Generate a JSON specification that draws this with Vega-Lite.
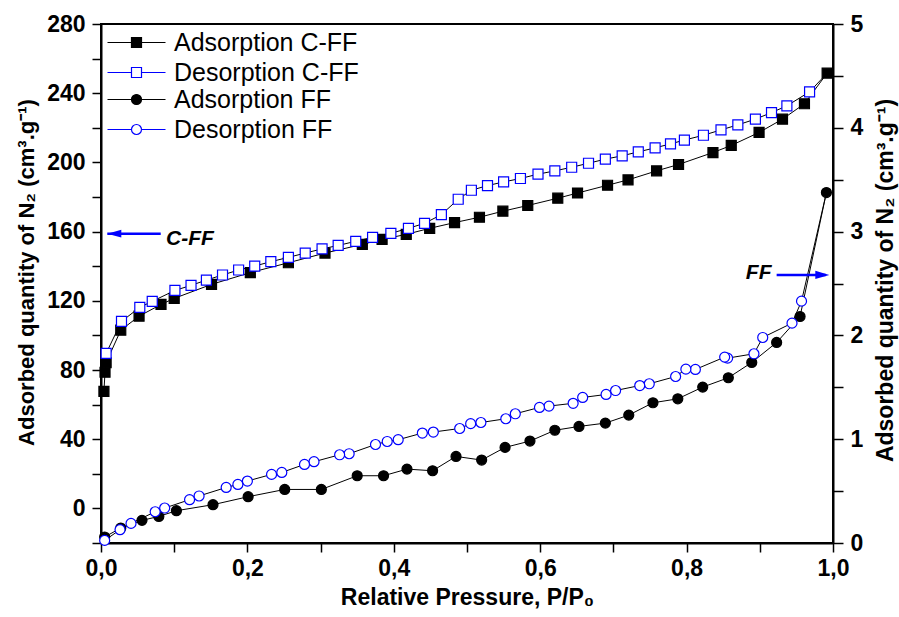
{
  "$schema": "https://vega.github.io/schema/vega-lite/v6.json",
  "width": 732,
  "height": 519,
  "autosize": {"type": "none"},
  "padding": {"left": 101, "top": 24, "right": 66, "bottom": 74},
  "background": "white",
  "config": {
    "view": {"stroke": "black", "strokeWidth": 2},
    "font": "Liberation Sans",
    "axis": {
      "domainColor": "black", "domainWidth": 2, "tickColor": "black", "tickWidth": 1.5,
      "labelColor": "black", "titleColor": "black",
      "labelFont": "Liberation Sans", "titleFont": "Liberation Sans",
      "labelFontWeight": "bold", "titleFontWeight": "bold",
      "labelFontSize": 23, "titleFontSize": 22, "grid": false, "tickSize": 9,
      "labelPadding": 7, "labelOverlap": false, "labelFlush": false
    }
  },
  "datasets": {
    "iso": [
      {"material": "C-FF", "series": "Adsorption C-FF", "p": 0.004, "q": 67.7},
      {"material": "C-FF", "series": "Adsorption C-FF", "p": 0.0055, "q": 78.7},
      {"material": "C-FF", "series": "Adsorption C-FF", "p": 0.007, "q": 84.2},
      {"material": "C-FF", "series": "Adsorption C-FF", "p": 0.027, "q": 103},
      {"material": "C-FF", "series": "Adsorption C-FF", "p": 0.052, "q": 111.1},
      {"material": "C-FF", "series": "Adsorption C-FF", "p": 0.082, "q": 117.9},
      {"material": "C-FF", "series": "Adsorption C-FF", "p": 0.100, "q": 121.4},
      {"material": "C-FF", "series": "Adsorption C-FF", "p": 0.151, "q": 129.5},
      {"material": "C-FF", "series": "Adsorption C-FF", "p": 0.204, "q": 136.3},
      {"material": "C-FF", "series": "Adsorption C-FF", "p": 0.256, "q": 142},
      {"material": "C-FF", "series": "Adsorption C-FF", "p": 0.306, "q": 147.6},
      {"material": "C-FF", "series": "Adsorption C-FF", "p": 0.357, "q": 152.6},
      {"material": "C-FF", "series": "Adsorption C-FF", "p": 0.384, "q": 155.5},
      {"material": "C-FF", "series": "Adsorption C-FF", "p": 0.417, "q": 158.4},
      {"material": "C-FF", "series": "Adsorption C-FF", "p": 0.449, "q": 161.9},
      {"material": "C-FF", "series": "Adsorption C-FF", "p": 0.483, "q": 165.2},
      {"material": "C-FF", "series": "Adsorption C-FF", "p": 0.517, "q": 168.3},
      {"material": "C-FF", "series": "Adsorption C-FF", "p": 0.549, "q": 171.8},
      {"material": "C-FF", "series": "Adsorption C-FF", "p": 0.583, "q": 175.1},
      {"material": "C-FF", "series": "Adsorption C-FF", "p": 0.624, "q": 179.3},
      {"material": "C-FF", "series": "Adsorption C-FF", "p": 0.651, "q": 182.3},
      {"material": "C-FF", "series": "Adsorption C-FF", "p": 0.692, "q": 186.8},
      {"material": "C-FF", "series": "Adsorption C-FF", "p": 0.720, "q": 189.9},
      {"material": "C-FF", "series": "Adsorption C-FF", "p": 0.759, "q": 195.1},
      {"material": "C-FF", "series": "Adsorption C-FF", "p": 0.789, "q": 198.8},
      {"material": "C-FF", "series": "Adsorption C-FF", "p": 0.836, "q": 205.7},
      {"material": "C-FF", "series": "Adsorption C-FF", "p": 0.861, "q": 209.8},
      {"material": "C-FF", "series": "Adsorption C-FF", "p": 0.899, "q": 217.3},
      {"material": "C-FF", "series": "Adsorption C-FF", "p": 0.931, "q": 225},
      {"material": "C-FF", "series": "Adsorption C-FF", "p": 0.961, "q": 233.9},
      {"material": "C-FF", "series": "Adsorption C-FF", "p": 0.992, "q": 251.6},
      {"material": "FF", "series": "Adsorption FF", "p": 0.005, "q": 0.058},
      {"material": "FF", "series": "Adsorption FF", "p": 0.027, "q": 0.144},
      {"material": "FF", "series": "Adsorption FF", "p": 0.056, "q": 0.218},
      {"material": "FF", "series": "Adsorption FF", "p": 0.079, "q": 0.256},
      {"material": "FF", "series": "Adsorption FF", "p": 0.103, "q": 0.311},
      {"material": "FF", "series": "Adsorption FF", "p": 0.153, "q": 0.369},
      {"material": "FF", "series": "Adsorption FF", "p": 0.201, "q": 0.446},
      {"material": "FF", "series": "Adsorption FF", "p": 0.251, "q": 0.516},
      {"material": "FF", "series": "Adsorption FF", "p": 0.301, "q": 0.516},
      {"material": "FF", "series": "Adsorption FF", "p": 0.350, "q": 0.648},
      {"material": "FF", "series": "Adsorption FF", "p": 0.386, "q": 0.648},
      {"material": "FF", "series": "Adsorption FF", "p": 0.418, "q": 0.712},
      {"material": "FF", "series": "Adsorption FF", "p": 0.453, "q": 0.696},
      {"material": "FF", "series": "Adsorption FF", "p": 0.485, "q": 0.834},
      {"material": "FF", "series": "Adsorption FF", "p": 0.520, "q": 0.799},
      {"material": "FF", "series": "Adsorption FF", "p": 0.552, "q": 0.921},
      {"material": "FF", "series": "Adsorption FF", "p": 0.586, "q": 0.982},
      {"material": "FF", "series": "Adsorption FF", "p": 0.620, "q": 1.086},
      {"material": "FF", "series": "Adsorption FF", "p": 0.653, "q": 1.123},
      {"material": "FF", "series": "Adsorption FF", "p": 0.689, "q": 1.155},
      {"material": "FF", "series": "Adsorption FF", "p": 0.721, "q": 1.232},
      {"material": "FF", "series": "Adsorption FF", "p": 0.754, "q": 1.351},
      {"material": "FF", "series": "Adsorption FF", "p": 0.788, "q": 1.389},
      {"material": "FF", "series": "Adsorption FF", "p": 0.822, "q": 1.502},
      {"material": "FF", "series": "Adsorption FF", "p": 0.857, "q": 1.592},
      {"material": "FF", "series": "Adsorption FF", "p": 0.889, "q": 1.739},
      {"material": "FF", "series": "Adsorption FF", "p": 0.923, "q": 1.932},
      {"material": "FF", "series": "Adsorption FF", "p": 0.955, "q": 2.182},
      {"material": "FF", "series": "Adsorption FF", "p": 0.991, "q": 3.376},
      {"material": "C-FF", "series": "Desorption C-FF", "p": 0.992, "q": 251.6},
      {"material": "C-FF", "series": "Desorption C-FF", "p": 0.968, "q": 240.8},
      {"material": "C-FF", "series": "Desorption C-FF", "p": 0.937, "q": 232.7},
      {"material": "C-FF", "series": "Desorption C-FF", "p": 0.916, "q": 228.8},
      {"material": "C-FF", "series": "Desorption C-FF", "p": 0.894, "q": 225},
      {"material": "C-FF", "series": "Desorption C-FF", "p": 0.870, "q": 221.7},
      {"material": "C-FF", "series": "Desorption C-FF", "p": 0.847, "q": 218.8},
      {"material": "C-FF", "series": "Desorption C-FF", "p": 0.823, "q": 215.7},
      {"material": "C-FF", "series": "Desorption C-FF", "p": 0.797, "q": 212.9},
      {"material": "C-FF", "series": "Desorption C-FF", "p": 0.778, "q": 210.7},
      {"material": "C-FF", "series": "Desorption C-FF", "p": 0.757, "q": 208.4},
      {"material": "C-FF", "series": "Desorption C-FF", "p": 0.734, "q": 206.1},
      {"material": "C-FF", "series": "Desorption C-FF", "p": 0.712, "q": 203.8},
      {"material": "C-FF", "series": "Desorption C-FF", "p": 0.689, "q": 201.9},
      {"material": "C-FF", "series": "Desorption C-FF", "p": 0.666, "q": 199.5},
      {"material": "C-FF", "series": "Desorption C-FF", "p": 0.643, "q": 197.2},
      {"material": "C-FF", "series": "Desorption C-FF", "p": 0.620, "q": 195.1},
      {"material": "C-FF", "series": "Desorption C-FF", "p": 0.597, "q": 193.2},
      {"material": "C-FF", "series": "Desorption C-FF", "p": 0.573, "q": 190.7},
      {"material": "C-FF", "series": "Desorption C-FF", "p": 0.550, "q": 188.7},
      {"material": "C-FF", "series": "Desorption C-FF", "p": 0.528, "q": 186.6},
      {"material": "C-FF", "series": "Desorption C-FF", "p": 0.506, "q": 183.9},
      {"material": "C-FF", "series": "Desorption C-FF", "p": 0.488, "q": 178.7},
      {"material": "C-FF", "series": "Desorption C-FF", "p": 0.465, "q": 169.8},
      {"material": "C-FF", "series": "Desorption C-FF", "p": 0.442, "q": 164.8},
      {"material": "C-FF", "series": "Desorption C-FF", "p": 0.420, "q": 161.9},
      {"material": "C-FF", "series": "Desorption C-FF", "p": 0.396, "q": 159},
      {"material": "C-FF", "series": "Desorption C-FF", "p": 0.371, "q": 156.7},
      {"material": "C-FF", "series": "Desorption C-FF", "p": 0.348, "q": 154.4},
      {"material": "C-FF", "series": "Desorption C-FF", "p": 0.324, "q": 152},
      {"material": "C-FF", "series": "Desorption C-FF", "p": 0.302, "q": 150},
      {"material": "C-FF", "series": "Desorption C-FF", "p": 0.279, "q": 147.6},
      {"material": "C-FF", "series": "Desorption C-FF", "p": 0.256, "q": 145.1},
      {"material": "C-FF", "series": "Desorption C-FF", "p": 0.232, "q": 142.6},
      {"material": "C-FF", "series": "Desorption C-FF", "p": 0.210, "q": 140.1},
      {"material": "C-FF", "series": "Desorption C-FF", "p": 0.188, "q": 137.8},
      {"material": "C-FF", "series": "Desorption C-FF", "p": 0.166, "q": 134.9},
      {"material": "C-FF", "series": "Desorption C-FF", "p": 0.144, "q": 132},
      {"material": "C-FF", "series": "Desorption C-FF", "p": 0.123, "q": 128.9},
      {"material": "C-FF", "series": "Desorption C-FF", "p": 0.101, "q": 126},
      {"material": "C-FF", "series": "Desorption C-FF", "p": 0.070, "q": 119.7},
      {"material": "C-FF", "series": "Desorption C-FF", "p": 0.053, "q": 116.2},
      {"material": "C-FF", "series": "Desorption C-FF", "p": 0.028, "q": 108.1},
      {"material": "C-FF", "series": "Desorption C-FF", "p": 0.007, "q": 89.6},
      {"material": "FF", "series": "Desorption FF", "p": 0.991, "q": 3.376},
      {"material": "FF", "series": "Desorption FF", "p": 0.957, "q": 2.33},
      {"material": "FF", "series": "Desorption FF", "p": 0.944, "q": 2.118},
      {"material": "FF", "series": "Desorption FF", "p": 0.904, "q": 1.98},
      {"material": "FF", "series": "Desorption FF", "p": 0.892, "q": 1.823},
      {"material": "FF", "series": "Desorption FF", "p": 0.856, "q": 1.781},
      {"material": "FF", "series": "Desorption FF", "p": 0.852, "q": 1.791},
      {"material": "FF", "series": "Desorption FF", "p": 0.812, "q": 1.672},
      {"material": "FF", "series": "Desorption FF", "p": 0.799, "q": 1.675},
      {"material": "FF", "series": "Desorption FF", "p": 0.785, "q": 1.604},
      {"material": "FF", "series": "Desorption FF", "p": 0.749, "q": 1.534},
      {"material": "FF", "series": "Desorption FF", "p": 0.736, "q": 1.517},
      {"material": "FF", "series": "Desorption FF", "p": 0.703, "q": 1.469},
      {"material": "FF", "series": "Desorption FF", "p": 0.690, "q": 1.431},
      {"material": "FF", "series": "Desorption FF", "p": 0.658, "q": 1.402},
      {"material": "FF", "series": "Desorption FF", "p": 0.645, "q": 1.346},
      {"material": "FF", "series": "Desorption FF", "p": 0.612, "q": 1.319},
      {"material": "FF", "series": "Desorption FF", "p": 0.599, "q": 1.306},
      {"material": "FF", "series": "Desorption FF", "p": 0.566, "q": 1.245},
      {"material": "FF", "series": "Desorption FF", "p": 0.553, "q": 1.197},
      {"material": "FF", "series": "Desorption FF", "p": 0.519, "q": 1.161},
      {"material": "FF", "series": "Desorption FF", "p": 0.505, "q": 1.15},
      {"material": "FF", "series": "Desorption FF", "p": 0.490, "q": 1.103},
      {"material": "FF", "series": "Desorption FF", "p": 0.454, "q": 1.069},
      {"material": "FF", "series": "Desorption FF", "p": 0.439, "q": 1.059},
      {"material": "FF", "series": "Desorption FF", "p": 0.406, "q": 0.995},
      {"material": "FF", "series": "Desorption FF", "p": 0.391, "q": 0.978},
      {"material": "FF", "series": "Desorption FF", "p": 0.375, "q": 0.949},
      {"material": "FF", "series": "Desorption FF", "p": 0.339, "q": 0.86},
      {"material": "FF", "series": "Desorption FF", "p": 0.326, "q": 0.85},
      {"material": "FF", "series": "Desorption FF", "p": 0.291, "q": 0.783},
      {"material": "FF", "series": "Desorption FF", "p": 0.278, "q": 0.757},
      {"material": "FF", "series": "Desorption FF", "p": 0.247, "q": 0.68},
      {"material": "FF", "series": "Desorption FF", "p": 0.233, "q": 0.661},
      {"material": "FF", "series": "Desorption FF", "p": 0.200, "q": 0.597},
      {"material": "FF", "series": "Desorption FF", "p": 0.187, "q": 0.564},
      {"material": "FF", "series": "Desorption FF", "p": 0.171, "q": 0.535},
      {"material": "FF", "series": "Desorption FF", "p": 0.134, "q": 0.453},
      {"material": "FF", "series": "Desorption FF", "p": 0.121, "q": 0.417},
      {"material": "FF", "series": "Desorption FF", "p": 0.087, "q": 0.337},
      {"material": "FF", "series": "Desorption FF", "p": 0.074, "q": 0.301},
      {"material": "FF", "series": "Desorption FF", "p": 0.041, "q": 0.189},
      {"material": "FF", "series": "Desorption FF", "p": 0.026, "q": 0.128},
      {"material": "FF", "series": "Desorption FF", "p": 0.005, "q": 0.025}
    ]
  },
  "resolve": {
    "scale": {"y": "independent", "fill": "independent", "stroke": "independent"},
    "axis": {"y": "independent"},
    "legend": {"fill": "independent", "stroke": "independent"}
  },
  "layer": [
    {
      "encoding": {
        "x": {
          "field": "p", "type": "quantitative",
          "scale": {"domain": [0, 1], "nice": false, "zero": false},
          "axis": {
            "orient": "bottom",
            "values": [0, 0.1, 0.2, 0.3, 0.4, 0.5, 0.6, 0.7, 0.8, 0.9, 1],
            "labelExpr": "round(datum.value*10) % 2 === 0 ? replace(format(datum.value, '.1f'), '.', ',') : ''",
            "labelPadding": 5,
            "title": "Relative Pressure, P/P₀",
            "titleFontSize": 23,
            "titleY": 61, "titleBaseline": "alphabetic",
            "encode": {"ticks": {"y2": {"value": {"expr": "round(datum.value*10) % 2 === 0 ? 9 : 6"}}}}
          }
        },
        "y": {
          "field": "q", "type": "quantitative",
          "scale": {"domain": [-20, 280], "nice": false, "zero": false},
          "axis": {
            "orient": "left",
            "values": [-20, 0, 20, 40, 60, 80, 100, 120, 140, 160, 180, 200, 220, 240, 260, 280],
            "labelExpr": "datum.value % 40 === 0 ? format(datum.value, 'd') : ''",
            "title": "Adsorbed quantity of N₂ (cm³.g⁻¹)",
            "titleAngle": 270, "titleX": -68, "titleY": 248, "titleBaseline": "alphabetic", "titleAlign": "center",
            "encode": {"ticks": {"x2": {"value": {"expr": "datum.value % 40 === 0 ? -9 : -5"}}}}
          }
        }
      },
      "layer": [
        {
          "data": {"name": "iso"},
          "transform": [{"filter": "datum.material === 'C-FF'"}],
          "mark": {"type": "line", "color": "black", "strokeWidth": 1},
          "encoding": {"detail": {"field": "series", "type": "nominal"}}
        },
        {
          "data": {"name": "iso"},
          "transform": [{"filter": "datum.material === 'C-FF' && (indexof(datum.series, 'Desorption') < 0 || datum.p < 0.99)"}],
          "mark": {"type": "point", "shape": "square", "size": 100, "strokeWidth": 1.2, "opacity": 1, "fillOpacity": 1},
          "encoding": {
            "fill": {"field": "series", "type": "nominal",
              "scale": {"domain": ["Adsorption C-FF", "Desorption C-FF"], "range": ["black", "white"]},
              "legend": {"title": null, "orient": "none", "legendX": 23, "legendY": 6, "padding": 0,
                "labelFont": "Liberation Sans", "labelFontSize": 25, "labelFontWeight": "normal", "labelColor": "black",
                "labelOffset": 25, "rowPadding": 4, "symbolSize": 100, "symbolStrokeWidth": 1.2, "symbolOpacity": 1, "labelLimit": 400,
                "symbolType": "M-5.8,0H-1M-1,-1H1V1H-1ZM1,0H5.8"}
            },
            "stroke": {"field": "series", "type": "nominal",
              "scale": {"domain": ["Adsorption C-FF", "Desorption C-FF"], "range": ["black", "#0000ff"]},
              "legend": {"title": null, "orient": "none", "legendX": 23, "legendY": 6, "padding": 0,
                "labelFont": "Liberation Sans", "labelFontSize": 25, "labelFontWeight": "normal", "labelColor": "black",
                "labelOffset": 25, "rowPadding": 4, "symbolSize": 100, "symbolStrokeWidth": 1.2, "symbolOpacity": 1, "labelLimit": 400,
                "symbolType": "M-5.8,0H-1M-1,-1H1V1H-1ZM1,0H5.8"}
            }
          }
        },
        {
          "data": {"values": [{"p": 0.0086, "p2": 0.0816, "q": 158.8}]},
          "mark": {"type": "rule", "color": "#0000ff", "strokeWidth": 2.5},
          "encoding": {"x2": {"field": "p2"}}
        },
        {
          "data": {"values": [{"p": 0.0086, "q": 158.8}]},
          "mark": {"type": "point", "shape": "M0,0L2,-0.55L2,0.55Z", "size": 196, "filled": true, "color": "#0000ff", "opacity": 1, "strokeWidth": 0}
        },
        {
          "data": {"values": [{"p": 0.0888, "q": 156, "label": "C-FF"}]},
          "mark": {"type": "text", "align": "left", "baseline": "middle", "font": "Liberation Sans", "fontSize": 21, "fontWeight": "bold", "fontStyle": "italic", "color": "black"},
          "encoding": {"text": {"field": "label"}}
        }
      ]
    },
    {
      "encoding": {
        "x": {
          "field": "p", "type": "quantitative",
          "scale": {"domain": [0, 1], "nice": false, "zero": false},
          "axis": {
            "orient": "bottom",
            "values": [0, 0.1, 0.2, 0.3, 0.4, 0.5, 0.6, 0.7, 0.8, 0.9, 1],
            "labelExpr": "round(datum.value*10) % 2 === 0 ? replace(format(datum.value, '.1f'), '.', ',') : ''",
            "labelPadding": 5,
            "title": "Relative Pressure, P/P₀",
            "titleFontSize": 23,
            "titleY": 61, "titleBaseline": "alphabetic",
            "encode": {"ticks": {"y2": {"value": {"expr": "round(datum.value*10) % 2 === 0 ? 9 : 6"}}}}
          }
        },
        "y": {
          "field": "q", "type": "quantitative",
          "scale": {"domain": [0, 5], "nice": false, "zero": false},
          "axis": {
            "orient": "right",
            "values": [0, 0.5, 1, 1.5, 2, 2.5, 3, 3.5, 4, 4.5, 5],
            "labelExpr": "datum.value % 1 === 0 ? format(datum.value, 'd') : ''",
            "tickSize": 10,
            "title": "Adsorbed quantity of N₂ (cm³.g⁻¹)",
            "titleFontSize": 23,
            "titleAngle": 270, "titleX": 59, "titleY": 256, "titleBaseline": "alphabetic", "titleAlign": "center",
            "encode": {"ticks": {"x2": {"value": {"expr": "datum.value % 1 === 0 ? 10 : 5"}}}}
          }
        }
      },
      "layer": [
        {
          "data": {"name": "iso"},
          "transform": [{"filter": "datum.material === 'FF'"}],
          "mark": {"type": "line", "color": "black", "strokeWidth": 1},
          "encoding": {"detail": {"field": "series", "type": "nominal"}}
        },
        {
          "data": {"name": "iso"},
          "transform": [{"filter": "datum.material === 'FF' && (indexof(datum.series, 'Desorption') < 0 || datum.p < 0.99)"}],
          "mark": {"type": "point", "shape": "circle", "size": 100, "strokeWidth": 1.2, "opacity": 1, "fillOpacity": 1},
          "encoding": {
            "fill": {"field": "series", "type": "nominal",
              "scale": {"domain": ["Adsorption FF", "Desorption FF"], "range": ["black", "white"]},
              "legend": {"title": null, "orient": "none", "legendX": 23, "legendY": 63, "padding": 0,
                "labelFont": "Liberation Sans", "labelFontSize": 25, "labelFontWeight": "normal", "labelColor": "black",
                "labelOffset": 25, "rowPadding": 4, "symbolSize": 100, "symbolStrokeWidth": 1.2, "symbolOpacity": 1, "labelLimit": 400,
                "symbolType": "M-5.8,0H-1M-1,0A1,1,0,1,1,1,0A1,1,0,1,1,-1,0ZM1,0H5.8"}
            },
            "stroke": {"field": "series", "type": "nominal",
              "scale": {"domain": ["Adsorption FF", "Desorption FF"], "range": ["black", "#0000ff"]},
              "legend": {"title": null, "orient": "none", "legendX": 23, "legendY": 63, "padding": 0,
                "labelFont": "Liberation Sans", "labelFontSize": 25, "labelFontWeight": "normal", "labelColor": "black",
                "labelOffset": 25, "rowPadding": 4, "symbolSize": 100, "symbolStrokeWidth": 1.2, "symbolOpacity": 1, "labelLimit": 400,
                "symbolType": "M-5.8,0H-1M-1,0A1,1,0,1,1,1,0A1,1,0,1,1,-1,0ZM1,0H5.8"}
            }
          }
        },
        {
          "data": {"values": [{"p": 0.923, "p2": 0.99, "q": 2.583}]},
          "mark": {"type": "rule", "color": "#0000ff", "strokeWidth": 2.5},
          "encoding": {"x2": {"field": "p2"}}
        },
        {
          "data": {"values": [{"p": 0.995, "q": 2.583}]},
          "mark": {"type": "point", "shape": "M0,0L-2,-0.6L-2,0.6Z", "size": 196, "filled": true, "color": "#0000ff", "opacity": 1, "strokeWidth": 0}
        },
        {
          "data": {"values": [{"p": 0.916, "q": 2.6, "label": "FF"}]},
          "mark": {"type": "text", "align": "right", "baseline": "middle", "font": "Liberation Sans", "fontSize": 21, "fontWeight": "bold", "fontStyle": "italic", "color": "black"},
          "encoding": {"text": {"field": "label"}}
        }
      ]
    }
  ]
}
